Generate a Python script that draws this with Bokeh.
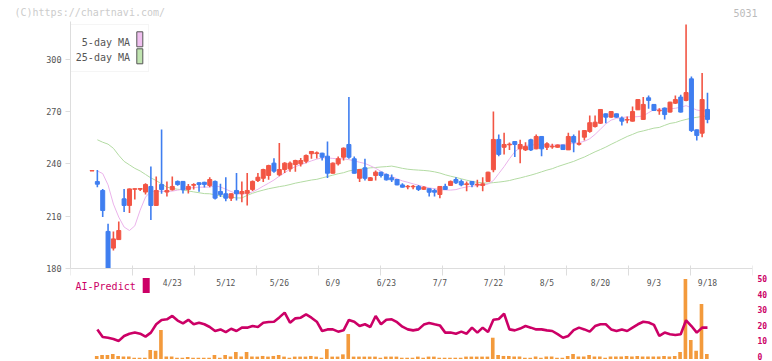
import numpy as np
from bokeh.plotting import figure
from bokeh.layouts import column
from bokeh.models import (ColumnDataSource, LinearAxis, Range1d, FixedTicker,
                          Span, BoxAnnotation)
from bokeh.core.properties import value
from bokeh.embed import file_html
from bokeh.resources import INLINE

nan = float("nan")

# ---------------- data ----------------
opens = [236.0, 229.9, 224.8, 201.3, 191.7, 196.6, 220.0, 216.2, 225.5, 225.5,
         223.9, 227.1, 216.2, 228.2, 223.9, 225.2, 230.0, 230.0, 225.4, 227.8,
         229.2, 229.5, 227.7, 230.0, 224.2, 222.9, 220.4, 224.8, 222.9, 223.2,
         225.4, 230.5, 231.8, 233.4, 240.5, 233.8, 236.8, 237.2, 239.7, 240.1,
         241.6, 245.9, 246.0, 246.2, 244.5, 234.7, 240.1, 243.9, 251.2, 243.0,
         231.8, 237.8, 230.5, 233.4, 235.3, 234.0, 232.1, 231.1, 228.0, 226.9,
         226.9, 227.1, 225.5, 225.8, 224.8, 222.5, 227.1, 227.7, 231.1, 230.0,
         228.2, 230.0, 228.0, 227.7, 230.0, 236.7, 254.1, 249.6, 251.0, 252.9,
         248.7, 248.1, 253.9, 248.7, 255.8, 249.6, 249.8, 249.6, 250.9, 248.1,
         255.8, 251.3, 255.4, 258.7, 261.5, 263.4, 268.8, 266.9, 268.8, 266.3,
         265.2, 264.6, 271.1, 265.6, 278.0, 274.2, 270.5, 272.1, 269.8, 274.9,
         278.4, 276.5, 288.9, 259.6, 257.7, 271.3]
highs = [236.3, 236.6, 225.7, 205.7, 201.3, 207.0, 225.7, 226.0, 226.0, 226.0,
         229.0, 238.5, 232.8, 259.8, 230.0, 232.8, 230.5, 230.3, 228.5, 229.0,
         229.5, 229.8, 232.4, 230.5, 228.6, 232.4, 223.0, 234.9, 230.0, 234.9,
         230.5, 234.9, 237.2, 239.5, 243.3, 252.0, 241.0, 241.5, 242.5, 243.5,
         245.5, 247.5, 247.2, 246.5, 252.9, 240.8, 244.3, 249.5, 278.4, 244.3,
         237.0, 243.0, 232.5, 236.3, 235.5, 234.5, 234.0, 231.3, 229.0, 228.0,
         228.0, 228.0, 227.2, 226.0, 225.8, 227.3, 228.6, 230.5, 232.4, 231.1,
         230.0, 230.3, 231.0, 232.4, 235.5, 270.1, 257.0, 257.9, 252.4, 253.0,
         253.9, 252.5, 254.5, 257.0, 256.0, 252.5, 251.6, 251.2, 251.0, 257.9,
         257.0, 259.2, 259.5, 267.8, 267.8, 271.5, 269.0, 270.5, 269.0, 267.3,
         267.3, 273.0, 277.2, 278.4, 279.3, 274.5, 272.0, 272.5, 275.7, 279.3,
         279.8, 320.1, 290.2, 259.8, 292.2, 280.9]
lows = [236.0, 226.7, 209.5, 177.0, 190.3, 196.5, 212.4, 211.8, 219.6, 224.5,
        222.5, 207.9, 216.0, 222.9, 221.4, 224.8, 227.5, 223.1, 223.0, 225.4,
        224.0, 226.5, 226.7, 219.6, 221.0, 218.6, 218.8, 219.0, 218.1, 216.2,
        224.5, 229.6, 229.6, 231.0, 235.0, 233.0, 234.9, 235.5, 235.5, 238.5,
        240.5, 243.0, 243.1, 242.0, 231.9, 234.5, 239.1, 242.0, 243.0, 234.5,
        229.6, 230.5, 230.3, 230.5, 232.3, 230.5, 229.6, 227.8, 226.5, 225.5,
        225.5, 224.5, 225.0, 221.4, 221.4, 220.4, 225.0, 227.5, 228.5, 227.2,
        224.4, 226.7, 226.7, 224.4, 229.8, 235.3, 244.5, 245.5, 248.0, 244.0,
        240.5, 247.5, 247.5, 248.5, 244.5, 248.0, 248.7, 249.3, 248.0, 248.0,
        246.8, 250.6, 253.5, 258.0, 261.0, 263.0, 263.4, 266.5, 266.5, 262.1,
        263.4, 264.4, 271.0, 265.4, 271.7, 270.5, 268.3, 265.6, 269.5, 274.5,
        269.5, 276.0, 258.3, 253.5, 255.4, 263.4]
closes = [236.2, 228.4, 213.3, 179.0, 197.0, 201.8, 216.2, 225.7, 225.8, 225.9,
          228.2, 216.2, 224.8, 225.4, 224.8, 227.1, 228.2, 225.2, 227.1, 228.2,
          228.2, 228.3, 231.1, 220.4, 222.5, 220.4, 222.9, 222.9, 224.2, 224.8,
          230.0, 232.4, 236.8, 239.1, 235.9, 236.8, 240.5, 240.5, 242.0, 242.0,
          244.9, 247.2, 246.4, 243.9, 234.7, 240.5, 243.0, 249.1, 243.9, 234.7,
          236.8, 231.8, 232.1, 235.3, 233.4, 230.9, 230.9, 228.0, 226.7, 227.2,
          227.2, 225.4, 226.7, 223.8, 223.8, 227.1, 225.4, 230.0, 229.2, 228.0,
          228.6, 228.2, 228.4, 228.6, 235.3, 254.1, 245.5, 251.2, 251.4, 251.2,
          251.2, 250.0, 248.1, 255.8, 248.7, 251.6, 250.2, 250.9, 248.3, 255.8,
          252.5, 251.8, 259.2, 263.7, 264.0, 271.3, 266.9, 270.1, 266.9, 264.6,
          265.6, 270.1, 277.0, 274.2, 276.5, 270.7, 270.9, 268.4, 275.5, 277.0,
          269.8, 281.0, 259.2, 256.4, 277.0, 265.6]
ma5 = [nan, 236.0, 234.5, 228.0, 217.0, 209.5, 203.8, 201.8, 204.5, 213.5,
       221.0, 224.3, 224.4, 224.3, 224.3, 224.4, 225.0, 225.5, 226.0, 226.5,
       226.7, 226.7, 226.8, 227.5, 226.8, 225.5, 224.2, 223.0, 222.8, 223.0,
       224.0, 225.5, 227.3, 229.0, 230.8, 233.0, 235.0, 237.0, 238.5, 239.6,
       240.7, 241.8, 242.8, 243.5, 243.5, 243.2, 243.0, 243.0, 242.5, 241.8,
       241.0, 240.3, 239.0, 237.5, 235.8, 234.0, 232.8, 231.5, 230.3, 229.5,
       228.6, 227.8, 227.0, 226.3, 225.8, 225.3, 225.1, 225.0, 225.3, 226.2,
       226.8, 227.3, 227.6, 227.8, 228.5, 230.5, 234.5, 238.5, 243.0, 247.0,
       249.5, 250.6, 251.0, 251.0, 251.0, 250.8, 250.8, 251.0, 251.2, 251.5,
       251.8, 252.3, 253.0, 254.5, 257.0, 260.0, 263.0, 265.2, 266.2, 266.7,
       267.0, 267.0, 267.2, 267.6, 269.5, 271.2, 271.5, 271.6, 271.7, 272.0,
       272.6, 273.5, 272.3, 271.0, 270.5, 270.5]
ma25 = [nan, 253.9, 252.5, 251.4, 249.0, 245.0, 241.5, 239.5, 237.5, 236.0,
        234.0, 232.0, 230.5, 228.5, 226.7, 226.0, 225.5, 225.2, 224.5, 224.0,
        223.5, 223.0, 222.9, 222.3, 221.8, 221.2, 221.0, 220.5, 220.5, 222.0,
        223.2, 224.2, 225.0, 225.8, 226.4, 227.0, 227.5, 228.2, 229.0, 229.6,
        230.2, 230.8, 231.2, 232.0, 232.8, 233.6, 234.4, 235.0, 236.0, 236.6,
        237.0, 237.4, 237.8, 238.0, 238.3, 238.5, 238.8, 238.2, 237.5, 237.0,
        236.7, 236.5, 236.3, 236.0, 235.5, 234.8, 233.8, 233.0, 232.3, 231.5,
        230.7, 230.0, 229.5, 229.2, 229.0, 229.3, 229.6, 230.0, 230.5, 231.3,
        232.0, 232.8, 233.6, 234.5, 235.5, 236.5, 237.3, 238.5, 239.5, 240.5,
        241.5, 242.8, 244.0, 245.5, 247.0, 248.3, 249.7, 251.3, 252.8, 254.3,
        255.8, 257.0, 258.3, 259.0, 259.8, 260.6, 261.0, 262.2, 263.3, 263.8,
        264.8, 265.6, 266.3, 266.8, 267.3, 267.6]
volume = [0.0, 1.9, 2.5, 2.5, 3.1, 1.9, 1.5, 1.5, 0.8, 0.8,
          0.8, 5.6, 5.2, 18.1, 1.5, 1.5, 0.8, 0.8, 1.3, 0.8,
          0.8, 0.8, 0.8, 2.5, 0.8, 2.5, 1.5, 4.4, 1.5, 4.4,
          1.5, 1.5, 1.9, 1.5, 1.9, 2.5, 1.5, 0.8, 1.5, 1.5,
          1.5, 1.9, 1.5, 0.8, 6.2, 1.5, 1.5, 2.9, 15.6, 1.5,
          1.5, 1.5, 1.5, 1.5, 0.8, 1.5, 1.5, 1.5, 0.8, 0.8,
          0.8, 1.5, 0.8, 1.5, 1.5, 0.8, 0.8, 0.8, 0.8, 0.8,
          1.5, 1.5, 1.5, 1.5, 1.5, 13.3, 2.5, 1.9, 1.9, 1.5,
          1.5, 0.8, 0.8, 1.5, 0.8, 1.5, 1.5, 0.8, 0.8, 1.9,
          3.1, 1.5, 1.5, 2.5, 1.5, 1.5, 0.8, 1.5, 1.5, 1.5,
          1.9, 1.5, 1.9, 1.5, 1.5, 1.5, 1.5, 1.9, 1.5, 1.9,
          4.4, 50.0, 11.9, 5.2, 34.4, 3.1]
ai_predict = [nan, 18.5, 13.8, 13.3, 12.5, 11.3, 14.4, 15.8, 16.5, 15.8,
              14.0, 16.5, 21.7, 24.4, 24.8, 26.9, 24.0, 22.3, 24.5, 21.7,
              22.7, 21.7, 20.0, 17.5, 18.5, 16.8, 18.9, 17.5, 19.6, 19.6,
              20.6, 20.0, 22.7, 23.1, 23.3, 26.0, 29.0, 22.7, 25.4, 25.8,
              27.9, 25.8, 23.3, 17.5, 18.5, 18.5, 17.1, 17.9, 24.4, 23.3,
              20.6, 21.7, 20.0, 26.9, 21.7, 24.5, 24.8, 23.0, 20.2, 18.5,
              17.9, 18.5, 21.5, 22.5, 21.7, 21.0, 16.5, 16.5, 15.8, 17.1,
              15.8, 19.6, 16.5, 19.6, 16.9, 24.5, 25.0, 28.3, 18.5, 17.9,
              19.0, 20.6, 19.6, 18.5, 18.5, 17.9, 17.5, 15.5, 13.3, 14.4,
              18.0, 19.6, 18.5, 17.1, 20.6, 21.7, 21.7, 18.5, 17.5, 18.5,
              17.5, 19.6, 21.7, 23.3, 22.8, 21.3, 14.4, 16.5, 15.5, 15.0,
              15.5, 24.2, 20.6, 16.5, 19.6, 19.6]
date_labels = ["4/23", "5/12", "5/26", "6/9", "6/23", "7/7", "7/22",
               "8/5", "8/20", "9/3", "9/18"]
date_label_idx = [15, 25, 35, 45, 55, 65, 75, 85, 95, 105, 115]
price_ticks = [180, 210, 240, 270, 300]
predict_ticks = [0, 10, 20, 30, 40, 50]
header_texts = ["(C)https://chartnavi.com/", "5031"]

# ---------------- geometry (page pixels) ----------------
W, H = 772, 361
HEAD = 21                      # header strip height (watermark row)
FL, FR, FT, FB = 70, 752, 21, 361
X0PX, STEP = 91.5, 5.352
Y180PX, PPU = 268.0, 1.7417
V0PX, VPPU = 358.5, 1.6        # bars / AI line
L0PX, L50PX = 356.0, 278.3     # right-axis label positions


def xd(px):
    return (px - X0PX) / STEP


def yd(px):
    return 180.0 + (Y180PX - px) / PPU


RED = "#f25544"
BLUE = "#3f7ef0"
GRAY_AX = "#dddddd"
TXT = "#555555"
MAG = "#cc0066"
FONT = "DejaVu Sans Mono"

# ---------------- header strip ----------------
hdr = figure(width=W, height=HEAD, output_backend="svg", toolbar_location=None,
             x_range=Range1d(0, W), y_range=Range1d(HEAD, 0),
             x_axis_location=None, y_axis_location=None,
             min_border_left=0, min_border_right=0, min_border_top=0, min_border_bottom=0)
hdr.frame_align = False
hdr.outline_line_color = None
hdr.grid.visible = False
hdr.text(x=[14], y=[12], text=[header_texts[0]], text_font=value(FONT),
         text_font_size="10px", text_color="#cccccc", text_align="left",
         text_baseline="middle")
hdr.text(x=[757], y=[12], text=[header_texts[1]], text_font=value(FONT),
         text_font_size="10px", text_color="#bbbbbb", text_align="right",
         text_baseline="middle")

# ---------------- main chart ----------------
n = len(opens)
idx = np.arange(n)
o = np.array(opens); h = np.array(highs); l = np.array(lows); c = np.array(closes)
floor = price_ticks[0]
colors = [RED if cc >= oo else BLUE for oo, cc in zip(opens, closes)]
src = ColumnDataSource(dict(
    x=idx,
    high=np.maximum(h, floor), low=np.maximum(l, floor),
    top=np.maximum(np.maximum(o, c), floor), bot=np.maximum(np.minimum(o, c), floor),
    color=colors,
))

MH = H - HEAD
p = figure(width=W, height=MH, output_backend="svg", toolbar_location=None,
           x_range=Range1d(xd(FL), xd(FR)), y_range=Range1d(yd(FB), yd(FT)),
           x_axis_location=None, y_axis_location=None,
           min_border_left=FL, min_border_right=W - FR,
           min_border_top=FT - HEAD, min_border_bottom=H - FB)
p.frame_align = False
lppu = (L0PX - L50PX) / predict_ticks[-1]
p.extra_y_ranges = {
    "vol": Range1d(-(FB - V0PX) / VPPU, (V0PX - FT) / VPPU),
    "lab": Range1d(-(FB - L0PX) / lppu, (L0PX - FT) / lppu),
}
p.outline_line_color = None
p.background_fill_color = "white"
p.border_fill_color = "white"
p.grid.visible = False

# moving averages
p.line(idx, ma25, line_color="#b3dba3", line_width=1)
p.line(idx, ma5, line_color="#ebb3eb", line_width=1)

# candles
p.segment(x0="x", y0="low", x1="x", y1="high", line_color="color", line_width=1.6, source=src)
p.vbar(x="x", width=0.75, top="top", bottom="bot", fill_color="color",
       line_color="color", line_width=1, source=src)

# lower panel
p.vbar(x=idx - 0.12, width=0.68, top=volume, bottom=0, y_range_name="vol",
       fill_color="#f39a3c", line_color=None)
p.line(idx, ai_predict, y_range_name="vol", line_color=MAG, line_width=2.6)

# axes
left = LinearAxis(ticker=FixedTicker(ticks=price_ticks), bounds=(floor, yd(FT)))
left.axis_line_color = GRAY_AX
left.major_tick_line_color = GRAY_AX
left.minor_tick_line_color = None
left.major_tick_in = 0
left.major_tick_out = 5
left.major_label_standoff = 4
left.major_label_text_font = FONT
left.major_label_text_font_size = "8.5px"
left.major_label_text_color = TXT
p.add_layout(left, "left")

right = LinearAxis(y_range_name="lab", ticker=FixedTicker(ticks=predict_ticks))
right.axis_line_color = None
right.major_tick_line_color = None
right.minor_tick_line_color = None
right.major_tick_in = 0
right.major_tick_out = 0
right.major_label_standoff = 5
right.major_label_text_font = FONT
right.major_label_text_font_size = "8px"
right.major_label_text_font_style = "bold"
right.major_label_text_color = MAG
p.add_layout(right, "right")

# x axis line across the middle with its tick marks
p.add_layout(Span(location=floor, dimension="width", line_color=GRAY_AX, line_width=1))
tx = np.linspace(xd(FL), xd(FR), 12)
p.segment(x0=tx, y0=yd(265), x1=tx, y1=yd(275), line_color=GRAY_AX, line_width=1)

# date labels
p.text(x=date_label_idx, y=[yd(282.5)] * len(date_labels), text=date_labels,
       text_font=value(FONT), text_font_size="8px", text_color=TXT,
       text_align="center", text_baseline="middle")

# AI-Predict label
p.text(x=[xd(75)], y=[yd(286)], text=["AI-Predict"], text_font=value(FONT),
       text_font_size="10px", text_color=MAG, text_align="left", text_baseline="middle")
p.rect(x=[xd(145.7)], y=[yd(285)], width=7, height=15, width_units="screen",
       height_units="screen", fill_color=MAG, line_color=None)

# MA legend
p.add_layout(BoxAnnotation(left=xd(FL), right=xd(148), top=yd(24), bottom=yd(71),
                           fill_color="white", fill_alpha=1.0, line_color=GRAY_AX,
                           line_width=1, level="underlay"))
p.text(x=[xd(129.5)] * 2, y=[yd(41.5), yd(57.3)], text=["5-day MA", "25-day MA"],
       text_font=value(FONT), text_font_size="10px", text_color=TXT,
       text_align="right", text_baseline="middle")
p.rect(x=[xd(139.3)] * 2, y=[yd(38.8), yd(55.8)], width=6, height=15,
       width_units="screen", height_units="screen",
       fill_color=["#f0c0f0", "#c0e4b0"], line_color=TXT, line_width=1)

layout = column(hdr, p, spacing=0)
open("out.html", "w").write(file_html(layout, INLINE))
